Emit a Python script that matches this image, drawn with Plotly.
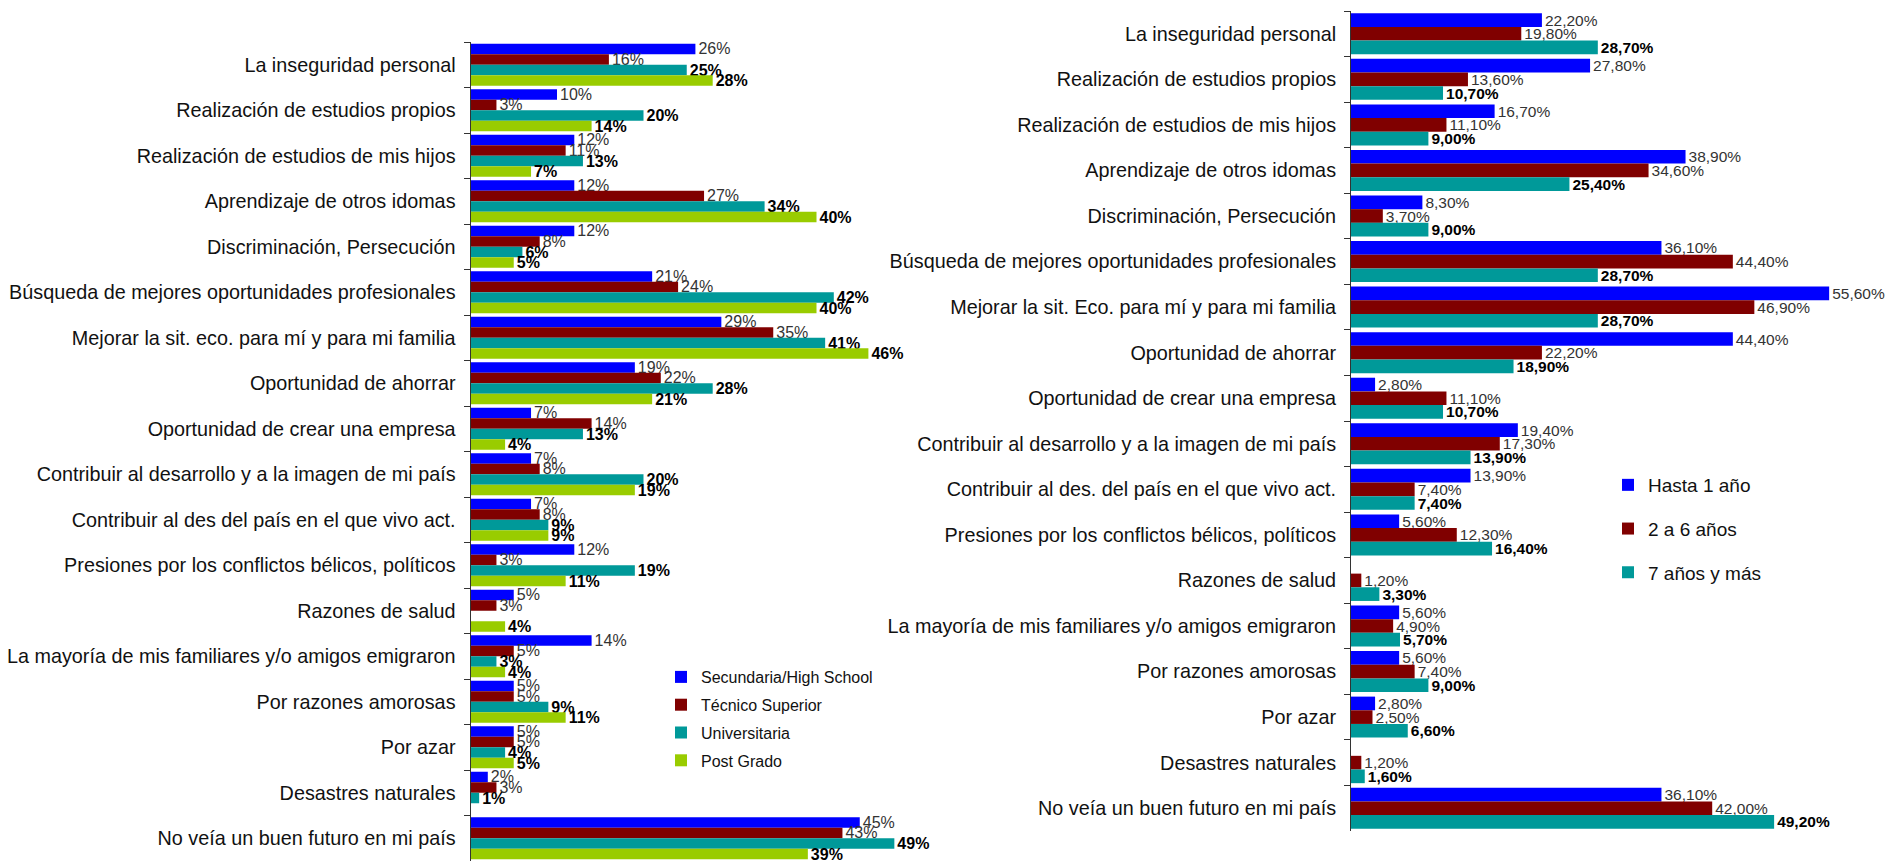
import plotly.graph_objects as go

W, H = 1885, 861

# left panel: reasons by education level (%)
cats_edu = [
    "La inseguridad personal",
    "Realización de estudios propios",
    "Realización de estudios de mis hijos",
    "Aprendizaje de otros idomas",
    "Discriminación, Persecución",
    "Búsqueda de mejores oportunidades profesionales",
    "Mejorar la sit. eco. para mí y para mi familia",
    "Oportunidad de ahorrar",
    "Oportunidad de crear una empresa",
    "Contribuir al desarrollo y a la imagen de mi país",
    "Contribuir al des del país en el que vivo act.",
    "Presiones por los conflictos bélicos, políticos",
    "Razones de salud",
    "La mayoría de mis familiares y/o amigos emigraron",
    "Por razones amorosas",
    "Por azar",
    "Desastres naturales",
    "No veía un buen futuro en mi país",
]
secundaria = [26, 10, 12, 12, 12, 21, 29, 19, 7, 7, 7, 12, 5, 14, 5, 5, 2, 45]
tecnico = [16, 3, 11, 27, 8, 24, 35, 22, 14, 8, 8, 3, 3, 5, 5, 5, 3, 43]
universitaria = [25, 20, 13, 34, 6, 42, 41, 28, 13, 20, 9, 19, None, 3, 9, 4, 1, 49]
postgrado = [28, 14, 7, 40, 5, 40, 46, 21, 4, 19, 9, 11, 4, 4, 11, 5, None, 39]

# right panel: reasons by time abroad (%)
cats_time = [
    "La inseguridad personal",
    "Realización de estudios propios",
    "Realización de estudios de mis hijos",
    "Aprendizaje de otros idomas",
    "Discriminación, Persecución",
    "Búsqueda de mejores oportunidades profesionales",
    "Mejorar la sit. Eco. para mí y para mi familia",
    "Oportunidad de ahorrar",
    "Oportunidad de crear una empresa",
    "Contribuir al desarrollo y a la imagen de mi país",
    "Contribuir al des. del país en el que vivo act.",
    "Presiones por los conflictos bélicos, políticos",
    "Razones de salud",
    "La mayoría de mis familiares y/o amigos emigraron",
    "Por razones amorosas",
    "Por azar",
    "Desastres naturales",
    "No veía un buen futuro en mi país",
]
hasta_1 = [22.2, 27.8, 16.7, 38.9, 8.3, 36.1, 55.6, 44.4, 2.8, 19.4, 13.9, 5.6, None, 5.6, 5.6, 2.8, None, 36.1]
de_2_a_6 = [19.8, 13.6, 11.1, 34.6, 3.7, 44.4, 46.9, 22.2, 11.1, 17.3, 7.4, 12.3, 1.2, 4.9, 7.4, 2.5, 1.2, 42.0]
mas_7 = [28.7, 10.7, 9.0, 25.4, 9.0, 28.7, 28.7, 18.9, 10.7, 13.9, 7.4, 16.4, 3.3, 5.7, 9.0, 6.6, 1.6, 49.2]

FONT = "Liberation Sans, Arial, sans-serif"
BLUE, RED, TEAL, GREEN = "#0000FF", "#800000", "#009999", "#99CC00"

fig = go.Figure()

left_series = [
    ("Secundaria/High School", secundaria, BLUE, False),
    ("Técnico Superior", tecnico, RED, False),
    ("Universitaria", universitaria, TEAL, True),
    ("Post Grado", postgrado, GREEN, True),
]
wl = 0.232
for i, (name, vals, color, bold) in enumerate(left_series):
    fig.add_trace(go.Bar(
        y=cats_edu, x=vals, name=name, orientation="h",
        marker=dict(color=color, line=dict(width=0)),
        width=wl, offset=-2 * wl + i * wl,
        texttemplate="%{x:.0f}%", textposition="outside",
        textangle=0, constraintext="none", cliponaxis=False,
        textfont=dict(size=16, color="#000" if bold else "#333",
                      weight="bold" if bold else "normal", family=FONT),
        xaxis="x", yaxis="y", legend="legend", legendgroup="l%d" % i,
        hoverinfo="skip",
    ))

right_series = [
    ("Hasta 1 año", hasta_1, BLUE, False),
    ("2 a 6 años", de_2_a_6, RED, False),
    ("7 años y más", mas_7, TEAL, True),
]
wr = 0.3
for i, (name, vals, color, bold) in enumerate(right_series):
    fig.add_trace(go.Bar(
        y=cats_time, x=vals, name=name, orientation="h",
        marker=dict(color=color, line=dict(width=0)),
        width=wr, offset=-1.5 * wr + i * wr,
        texttemplate="%{x:.2f}%", textposition="outside",
        textangle=0, constraintext="none", cliponaxis=False,
        textfont=dict(size=15.5, color="#000" if bold else "#333",
                      weight="bold" if bold else "normal", family=FONT),
        xaxis="x2", yaxis="y2", legend="legend2", legendgroup="r%d" % i,
        hoverinfo="skip",
    ))

yax = dict(
    type="category", range=[17.5, -0.5], showline=True, linecolor="#333",
    linewidth=1, ticks="outside", tickson="boundaries", ticklen=6,
    tickcolor="#333", tickfont=dict(size=19.8, color="#111", family=FONT),
    ticklabelstandoff=10, showgrid=False, zeroline=False,
)

fig.update_layout(
    width=W, height=H,
    margin=dict(l=0, r=0, t=0, b=0),
    paper_bgcolor="white", plot_bgcolor="white",
    barmode="overlay", separators=",.",
    font=dict(family=FONT, color="#111"),
    xaxis=dict(domain=[470.5 / W, (470.5 + 50 * 8.65) / W], range=[0, 50],
               visible=False, anchor="y"),
    yaxis=dict(domain=[0, 1 - 42 / H], anchor="x", **yax),
    xaxis2=dict(domain=[1351 / W, (1351 + 60 * 8.6) / W], range=[0, 60],
                visible=False, anchor="y2"),
    yaxis2=dict(domain=[1 - 831 / H, 1 - 11 / H], anchor="x2", **yax),
    legend=dict(x=661 / W, xanchor="left", y=1 - 660 / H, yanchor="top",
                font=dict(size=16, family=FONT, color="#111"),
                tracegroupgap=4, bgcolor="rgba(0,0,0,0)"),
    legend2=dict(x=1608 / W, xanchor="left", y=1 - 466 / H, yanchor="top",
                 font=dict(size=19, family=FONT, color="#111"),
                 tracegroupgap=16, bgcolor="rgba(0,0,0,0)"),
    showlegend=True,
)

fig.write_html("out.html", config={"displayModeBar": False},
               post_script="document.body.style.margin='0';")
